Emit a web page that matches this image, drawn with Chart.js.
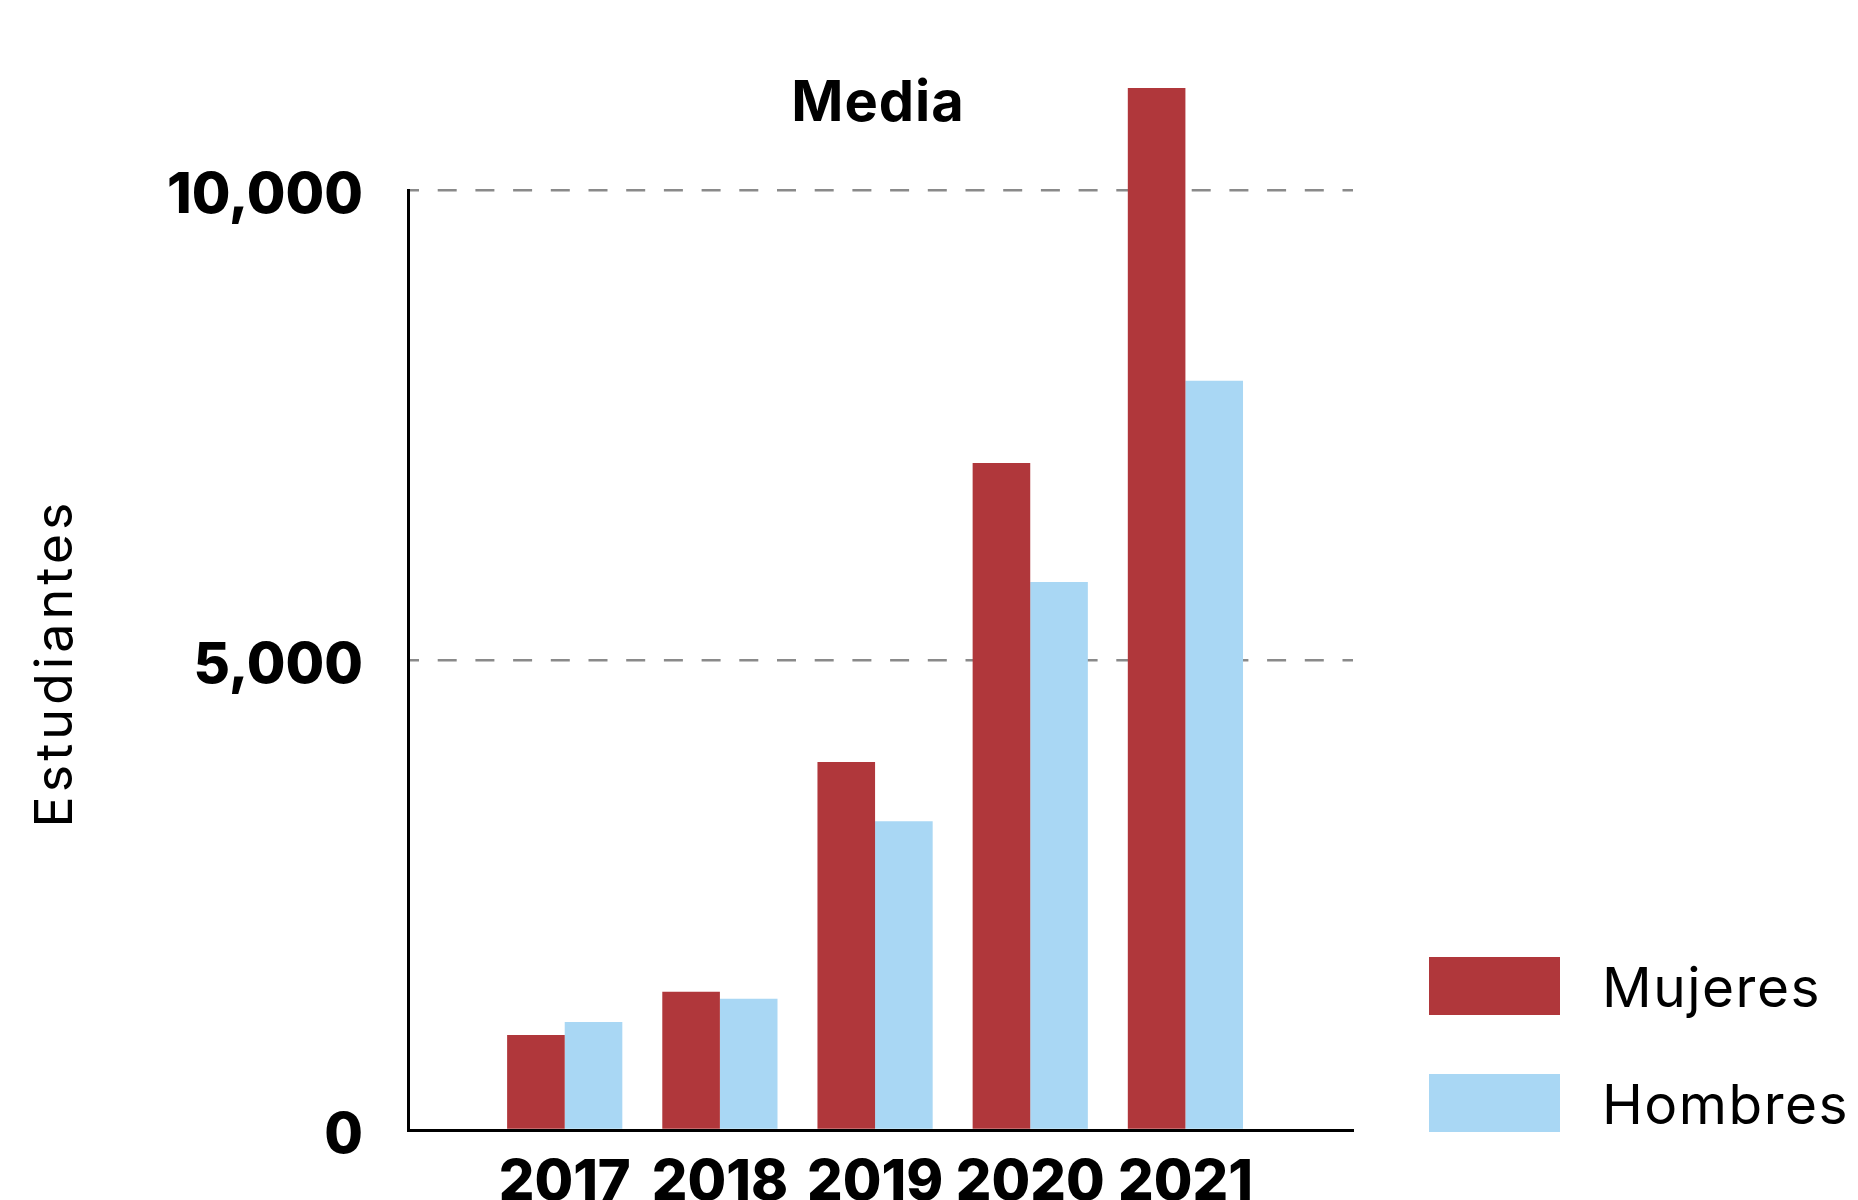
<!DOCTYPE html>
<html lang="es">
<head>
<meta charset="utf-8">
<title>Media</title>
<script src="https://cdn.jsdelivr.net/npm/chart.js@4.4.1/dist/chart.umd.min.js"></script>
<style>
  html, body { margin: 0; padding: 0; background: #fff; }
  #wrap { width: 1858px; height: 1200px; position: relative; }
</style>
</head>
<body>
<div id="wrap"><canvas id="chartMedia"></canvas></div>
<script>
// ===== DATOS =====
const years = [2017, 2018, 2019, 2020, 2021];
const mujeres = [1010, 1470, 3915, 7095, 11085];
const hombres = [1150, 1395, 3285, 5830, 7970];
const yTicks = [0, 5000, 10000];
const seriesNames = ['Mujeres', 'Hombres'];
const titleText = 'Media';
const yTitleText = 'Estudiantes';

const colores = ['#B0373B', '#A9D7F4'];

// ===== TEXTOS EXTRA (titulo, eje y, leyenda) =====
const extrasPlugin = {
    id: 'extras',
    afterDraw(chart) {
        const ctx = chart.ctx;
        ctx.save();
        ctx.fillStyle = '#000';
        ctx.textBaseline = 'alphabetic';

        // titulo
        ctx.font = 'bold 56px Inter';
        ctx.textAlign = 'center';
        ctx.letterSpacing = '1px';
        ctx.fillText(titleText, 878, 121);

        // titulo eje y
        ctx.save();
        ctx.translate(72, 663);
        ctx.rotate(-Math.PI / 2);
        ctx.font = '52px Inter';
        ctx.letterSpacing = '4px';
        ctx.fillText(yTitleText, 0, 0);
        ctx.restore();

        // leyenda
        ctx.font = '55px Inter';
        ctx.textAlign = 'left';
        ctx.letterSpacing = '1.5px';
        chart.data.datasets.forEach((ds, i) => {
            const top = 957 + i * 117;
            ctx.fillStyle = ds.backgroundColor;
            ctx.fillRect(1429, top, 131, 58);
            ctx.fillStyle = '#000';
            ctx.fillText(ds.label, 1602, top + 50);
        });
        ctx.restore();
    }
};

// ===== GRAFICO =====
const ctx = document.getElementById('chartMedia').getContext('2d');

new Chart(ctx, {
    type: 'bar',
    data: {
        datasets: [
            {
                label: seriesNames[0],
                data: mujeres.map((v, i) => ({ x: years[i], y: v })),
                backgroundColor: colores[0],
                borderWidth: 0,
                clip: false
            },
            {
                label: seriesNames[1],
                data: hombres.map((v, i) => ({ x: years[i], y: v })),
                backgroundColor: colores[1],
                borderWidth: 0,
                clip: false
            }
        ]
    },
    options: {
        responsive: true,
        maintainAspectRatio: false,
        animation: false,
        categoryPercentage: 0.7425,
        barPercentage: 1,
        layout: {
            padding: { left: 0, top: 190, right: 505, bottom: 0 }
        },
        plugins: {
            legend: { display: false },
            title: { display: false },
            tooltip: { enabled: false }
        },
        scales: {
            x: {
                type: 'linear',
                min: 2015.99,
                max: 2022.08,
                offset: false,
                grid: { display: false, offset: false, drawTicks: false },
                border: { display: true, color: '#000', width: 3 },
                afterBuildTicks: (scale) => {
                    scale.ticks = years.map(v => ({ value: v }));
                },
                afterFit: (scale) => {
                    scale.height = 70;
                    scale.paddingLeft = 0;
                    scale.paddingRight = 0;
                },
                ticks: {
                    color: '#000',
                    padding: 20,
                    maxRotation: 0,
                    autoSkip: false,
                    font: { family: 'Inter', size: 56, weight: 800 },
                    callback: (value) => String(value)
                }
            },
            y: {
                min: 0,
                max: 10000,
                grid: {
                    drawTicks: false,
                    lineWidth: 2.5,
                    color: (c) => (c.tick && c.tick.value === 0) ? 'rgba(0,0,0,0)' : '#8a8a8a'
                },
                border: {
                    display: true,
                    color: '#000',
                    width: 3,
                    dash: [19, 18.7],
                    dashOffset: 10
                },
                afterBuildTicks: (scale) => {
                    scale.ticks = yTicks.map(v => ({ value: v }));
                },
                afterFit: (scale) => {
                    scale.width = 408;
                    scale.paddingTop = 0;
                    scale.paddingBottom = 0;
                },
                ticks: {
                    color: '#000',
                    padding: 45,
                    labelOffset: 6,
                    font: { family: 'Inter', size: 56, weight: 800 },
                    callback: (value) => value.toLocaleString('en-US')
                }
            }
        }
    },
    plugins: [extrasPlugin]
});
</script>
</body>
</html>
